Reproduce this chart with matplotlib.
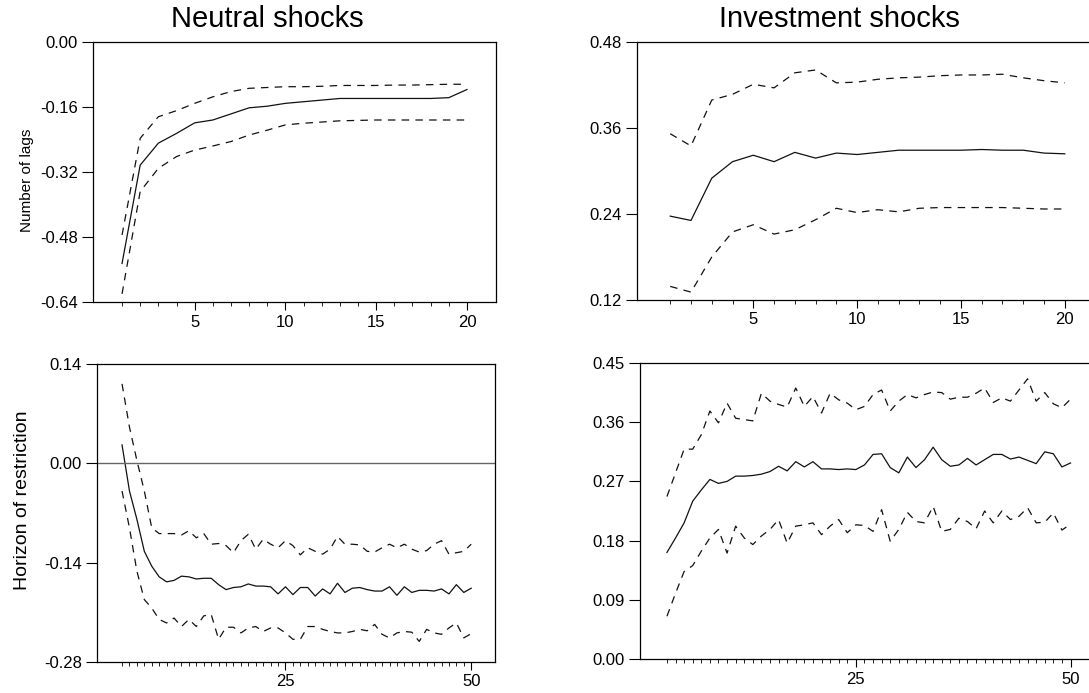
from matplotlib import pyplot as plt

plt.rcParams['font.family'] = ['Liberation Sans', 'DejaVu Sans']
plt.rcParams['axes.unicode_minus'] = False

# x values
lags = list(range(1, 21))
horizon = list(range(3, 51))

# Neutral shocks, number of lags
nl_mid = [-0.545, -0.303, -0.249, -0.225, -0.199, -0.192, -0.177, -0.162, -0.158, -0.151,
          -0.147, -0.143, -0.139, -0.139, -0.139, -0.139, -0.139, -0.139, -0.137, -0.117]
nl_up = [-0.475, -0.237, -0.184, -0.169, -0.151, -0.135, -0.122, -0.114, -0.112, -0.110,
         -0.110, -0.109, -0.107, -0.107, -0.107, -0.106, -0.106, -0.105, -0.104, -0.104]
nl_lo = [-0.620, -0.368, -0.311, -0.282, -0.266, -0.256, -0.245, -0.229, -0.217, -0.204,
         -0.200, -0.197, -0.194, -0.193, -0.192, -0.192, -0.192, -0.192, -0.192, -0.192]

# Investment shocks, number of lags
il_mid = [0.237, 0.231, 0.290, 0.313, 0.322, 0.313, 0.326, 0.318, 0.325, 0.323,
          0.326, 0.329, 0.329, 0.329, 0.329, 0.330, 0.329, 0.329, 0.325, 0.324]
il_up = [0.352, 0.335, 0.399, 0.407, 0.421, 0.416, 0.437, 0.441, 0.423, 0.424,
         0.428, 0.430, 0.431, 0.433, 0.434, 0.434, 0.435, 0.430, 0.426, 0.423]
il_lo = [0.139, 0.131, 0.180, 0.215, 0.225, 0.212, 0.218, 0.232, 0.248, 0.242,
         0.246, 0.243, 0.248, 0.249, 0.249, 0.249, 0.249, 0.248, 0.247, 0.247]

# Neutral shocks, horizon of restriction
nh_mid = [0.026, -0.039, -0.079, -0.124, -0.145, -0.160, -0.167, -0.165, -0.159, -0.160,
          -0.163, -0.162, -0.162, -0.171, -0.178, -0.175, -0.174, -0.170, -0.173, -0.173,
          -0.174, -0.184, -0.174, -0.185, -0.175, -0.175, -0.187, -0.177, -0.184, -0.169,
          -0.182, -0.176, -0.175, -0.178, -0.180, -0.180, -0.174, -0.186, -0.174, -0.182,
          -0.179, -0.179, -0.180, -0.177, -0.184, -0.171, -0.182, -0.176]
nh_up = [0.112, 0.051, 0.004, -0.039, -0.091, -0.099, -0.099, -0.099, -0.101, -0.095,
         -0.105, -0.099, -0.114, -0.113, -0.116, -0.126, -0.109, -0.100, -0.121, -0.107,
         -0.114, -0.119, -0.109, -0.116, -0.129, -0.119, -0.124, -0.128, -0.121, -0.103,
         -0.114, -0.114, -0.115, -0.124, -0.125, -0.119, -0.114, -0.119, -0.114, -0.121,
         -0.125, -0.123, -0.114, -0.109, -0.128, -0.126, -0.124, -0.114]
nh_lo = [-0.039, -0.091, -0.152, -0.192, -0.204, -0.220, -0.225, -0.218, -0.230, -0.220,
         -0.230, -0.215, -0.213, -0.248, -0.231, -0.231, -0.239, -0.232, -0.230, -0.237,
         -0.232, -0.232, -0.239, -0.248, -0.248, -0.230, -0.230, -0.234, -0.237, -0.239,
         -0.239, -0.237, -0.234, -0.236, -0.227, -0.241, -0.246, -0.239, -0.237, -0.238,
         -0.251, -0.234, -0.239, -0.241, -0.232, -0.225, -0.246, -0.240]

# Investment shocks, horizon of restriction
ih_mid = [0.162, 0.184, 0.207, 0.240, 0.257, 0.273, 0.267, 0.270, 0.278, 0.278,
          0.279, 0.281, 0.285, 0.293, 0.286, 0.300, 0.292, 0.300, 0.289, 0.289,
          0.288, 0.289, 0.288, 0.295, 0.311, 0.312, 0.291, 0.283, 0.307, 0.291,
          0.303, 0.322, 0.303, 0.293, 0.295, 0.305, 0.295, 0.303, 0.311, 0.311,
          0.304, 0.307, 0.302, 0.297, 0.315, 0.312, 0.292, 0.298]
ih_up = [0.247, 0.283, 0.319, 0.319, 0.341, 0.377, 0.359, 0.389, 0.366, 0.364,
         0.362, 0.404, 0.392, 0.387, 0.383, 0.412, 0.384, 0.399, 0.374, 0.404,
         0.394, 0.389, 0.379, 0.384, 0.402, 0.409, 0.377, 0.392, 0.402, 0.397,
         0.402, 0.406, 0.405, 0.395, 0.398, 0.398, 0.404, 0.412, 0.390, 0.397,
         0.392, 0.409, 0.426, 0.392, 0.405, 0.388, 0.382, 0.395]
ih_lo = [0.065, 0.100, 0.133, 0.142, 0.164, 0.184, 0.197, 0.161, 0.202, 0.184,
         0.174, 0.187, 0.197, 0.212, 0.176, 0.202, 0.204, 0.207, 0.189, 0.202,
         0.212, 0.192, 0.204, 0.203, 0.194, 0.227, 0.179, 0.197, 0.223, 0.209,
         0.207, 0.232, 0.194, 0.197, 0.214, 0.209, 0.198, 0.225, 0.207, 0.225,
         0.212, 0.217, 0.230, 0.207, 0.208, 0.222, 0.196, 0.205]

W, H = 1089, 693
fig = plt.figure(figsize=(W / 100, H / 100), dpi=100)


def panel(left, top, right, bottom, x, mid, up, lo, xlim, ylim, yticks, xmajor):
    ax = fig.add_axes([left / W, 1 - bottom / H, (right - left) / W, (bottom - top) / H])
    ax.plot(x, up, color='#111111', lw=0.9, linestyle=(0, (6, 5)))
    ax.plot(x, mid, color='#111111', lw=0.9)
    ax.plot(x, lo, color='#111111', lw=0.9, linestyle=(0, (6, 5)))
    ax.set_xlim(xlim)
    ax.set_ylim(ylim)
    ax.set_yticks(yticks)
    ax.set_yticklabels(['%.2f' % v for v in yticks])
    ax.set_xticks(xmajor)
    ax.set_xticks(x, minor=True)
    ax.tick_params(axis='y', direction='out', length=8, width=0.8, labelsize=12, pad=3)
    ax.tick_params(axis='x', which='major', direction='out', length=6, width=0.8, labelsize=12, pad=3)
    ax.tick_params(axis='x', which='minor', direction='out', length=3, width=0.6)
    for s in ax.spines.values():
        s.set_linewidth(0.9)
    return ax


panel(93, 42, 496, 302, lags, nl_mid, nl_up, nl_lo, (-0.6, 21.6), (-0.64, 0.0),
      [0.0, -0.16, -0.32, -0.48, -0.64], [5, 10, 15, 20])
panel(637, 42, 1098, 300, lags, il_mid, il_up, il_lo, (-0.6, 21.6), (0.12, 0.48),
      [0.12, 0.24, 0.36, 0.48], [5, 10, 15, 20])
ax3 = panel(97, 364, 495, 662, horizon, nh_mid, nh_up, nh_lo, (-0.37, 53.2), (-0.28, 0.14),
            [0.14, 0.0, -0.14, -0.28], [25, 50])
ax3.axhline(0, color='#666666', lw=1.0)
panel(640, 363, 1098, 659, horizon, ih_mid, ih_up, ih_lo, (-0.14, 53.2), (0.0, 0.45),
      [0.0, 0.09, 0.18, 0.27, 0.36, 0.45], [25, 50])

# row labels and column titles
fig.text(27 / W, 1 - 180 / H, 'Number of lags', fontsize=11, rotation=90, ha='center', va='center')
fig.text(23 / W, 1 - 500 / H, 'Horizon of restriction', fontsize=14, rotation=90, ha='center', va='center')
fig.text(267 / W, 1 - 27 / H, 'Neutral shocks', fontsize=21, ha='center', va='baseline')
fig.text(839 / W, 1 - 27 / H, 'Investment shocks', fontsize=21, ha='center', va='baseline')

plt.savefig('out.png', dpi=100)
